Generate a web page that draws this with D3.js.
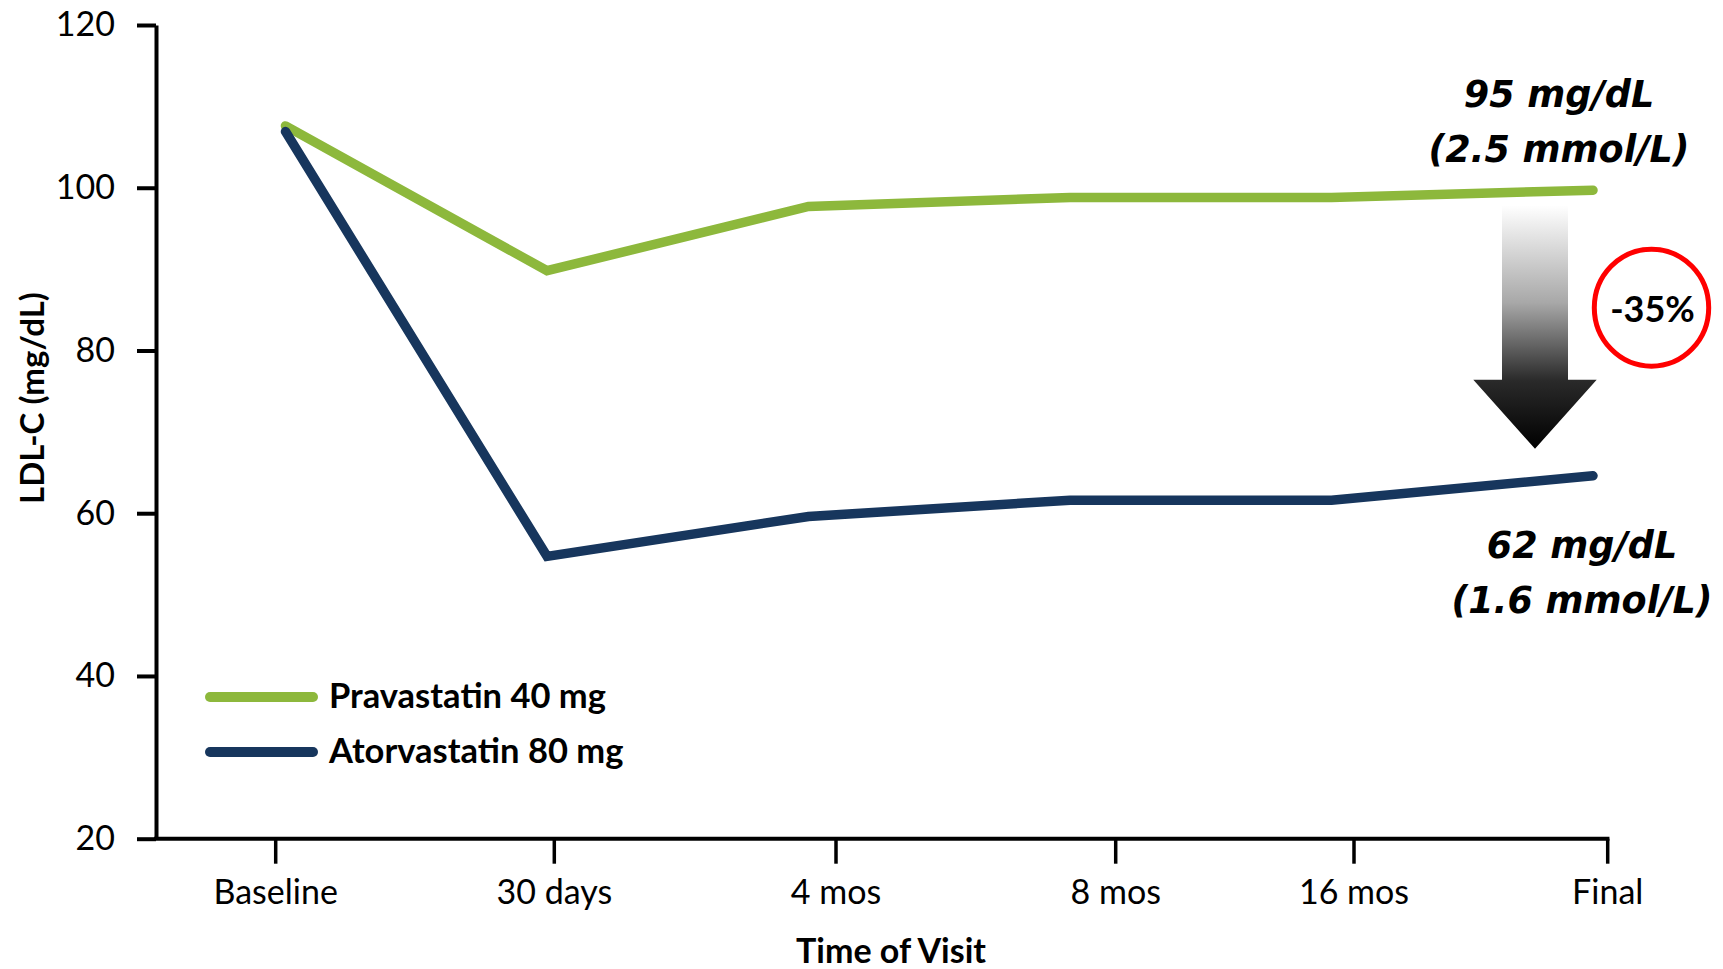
<!DOCTYPE html>
<html><head><meta charset="utf-8">
<script src="https://cdn.jsdelivr.net/npm/d3@7"></script>
<style>html,body{margin:0;padding:0;background:#fff;} svg{display:block}</style>
</head><body><svg id="chart" width="1723" height="969"></svg>
<script>
// ---- data ----
const visits = ["Baseline", "30 days", "4 mos", "8 mos", "16 mos", "Final"];
const pravastatin = [107.6, 89.8, 97.7, 98.8, 98.8, 99.7];
const atorvastatin = [106.9, 54.7, 59.6, 61.6, 61.6, 64.6];
const yTicks = [20, 40, 60, 80, 100, 120];
const seriesNames = ["Pravastatin 40 mg", "Atorvastatin 80 mg"];
const topNote = ["95 mg/dL", "(2.5 mmol/L)"];
const bottomNote = ["62 mg/dL", "(1.6 mmol/L)"];
const changeLabel = "-35%";
const yTitle = "LDL-C (mg/dL)";
const xTitle = "Time of Visit";

// ---- layout / style ----
const W = 1723, H = 969;
const axisX = 156, axisY = 838.7, topY = 25;
const colors = ["#8DB83C", "#17365D"];
const tickNudge = [-9.8, 7.3, 27.5, 45.7, 22.5, 14.7];
const fontMain = "Lato, 'Open Sans', sans-serif";
const fontNote = "'DejaVu Sans', Verdana, sans-serif";

const svg = d3.select("#chart");
const x = d3.scalePoint().domain(visits).range([285.5, 1593]);
const y = d3.scaleLinear().domain([20, 120]).range([axisY, topY]);

// y axis
const gy = svg.append("g").attr("transform", `translate(${axisX},0)`)
  .call(d3.axisLeft(y).tickValues(yTicks).tickSize(19).tickSizeOuter(0).tickPadding(22));
gy.select(".domain").attr("stroke", "#000").attr("stroke-width", 4);
gy.selectAll(".tick line").attr("stroke", "#000").attr("stroke-width", 4);
gy.selectAll(".tick text").attr("font-family", fontMain).attr("font-size", 34).attr("fill", "#000");

// x axis
const gx = svg.append("g").attr("transform", `translate(0,${axisY})`)
  .call(d3.axisBottom(x).tickSize(25).tickSizeOuter(0));
gx.select(".domain").remove();
gx.selectAll(".tick").attr("transform", (d, i) => `translate(${x(d) + tickNudge[i]},0)`);
gx.selectAll(".tick line").attr("stroke", "#000").attr("stroke-width", 3.5);
gx.selectAll(".tick text").attr("font-family", fontMain).attr("font-size", 34).attr("fill", "#000")
  .attr("y", 65.3).attr("dy", 0);
const lastTickX = x(visits[visits.length - 1]) + tickNudge[visits.length - 1];
svg.append("line").attr("x1", axisX - 2).attr("x2", lastTickX + 1.75)
  .attr("y1", axisY).attr("y2", axisY).attr("stroke", "#000").attr("stroke-width", 4);

// titles
svg.append("text").attr("transform", `translate(31,398) rotate(-90)`)
  .attr("text-anchor", "middle").attr("dominant-baseline", "central")
  .attr("font-family", fontMain).attr("font-weight", 700).attr("font-size", 33).text(yTitle);
svg.append("text").attr("x", 891).attr("y", 963).attr("text-anchor", "middle")
  .attr("font-family", fontMain).attr("font-weight", 700).attr("font-size", 34).text(xTitle);

// lines
const line = d3.line().x((d, i) => x(visits[i])).y(d => y(d));
[pravastatin, atorvastatin].forEach((s, k) => {
  svg.append("path").datum(s).attr("d", line).attr("fill", "none")
    .attr("stroke", colors[k]).attr("stroke-width", 9.5)
    .attr("stroke-linecap", "round").attr("stroke-linejoin", "miter");
});

// legend
const legY = [697, 752];
seriesNames.forEach((n, k) => {
  svg.append("line").attr("x1", 210).attr("x2", 313).attr("y1", legY[k]).attr("y2", legY[k])
    .attr("stroke", colors[k]).attr("stroke-width", 10).attr("stroke-linecap", "round");
  svg.append("text").attr("x", 329).attr("y", legY[k] + 11).attr("font-family", fontMain)
    .attr("font-weight", 700).attr("font-size", 34.5).attr("fill", "#000").text(n);
});

// annotations
const xEnd = x(visits[visits.length - 1]);
[[topNote, 1559, [107, 162]], [bottomNote, 1582, [558, 613]]].forEach(([lines, cx, ys]) => {
  lines.forEach((t, i) => {
    svg.append("text").attr("x", cx).attr("y", ys[i]).attr("text-anchor", "middle")
      .attr("font-family", fontNote).attr("font-weight", 700).attr("font-style", "italic")
      .attr("font-size", 36.5).attr("fill", "#000").text(t);
  });
});

// gradient arrow
const defs = svg.append("defs");
const aTop = y(pravastatin[pravastatin.length - 1]) + 15;
const aTip = y(atorvastatin[atorvastatin.length - 1]) - 27;
const aCx = xEnd - 58, shaftHalf = 33, headHalf = 61.7, headTop = aTip - 69;
const grad = defs.append("linearGradient").attr("id", "arrowGrad")
  .attr("gradientUnits", "userSpaceOnUse").attr("x1", 0).attr("x2", 0).attr("y1", aTop).attr("y2", aTip);
[[0, "#ffffff"], [0.4, "#a8a8a8"], [0.72, "#2a2a2a"], [1, "#000000"]].forEach(([o, c]) =>
  grad.append("stop").attr("offset", o).attr("stop-color", c));
svg.append("path").attr("fill", "url(#arrowGrad)").attr("d",
  `M${aCx - shaftHalf},${aTop} L${aCx + shaftHalf},${aTop} L${aCx + shaftHalf},${headTop} L${aCx + headHalf},${headTop} L${aCx},${aTip} L${aCx - headHalf},${headTop} L${aCx - shaftHalf},${headTop} Z`);

// red circle with change label
svg.append("ellipse").attr("cx", 1651.5).attr("cy", 307.7).attr("rx", 57.2).attr("ry", 58.5)
  .attr("fill", "none").attr("stroke", "#FF0000").attr("stroke-width", 5);
svg.append("text").attr("x", 1652.5).attr("y", 321.7).attr("text-anchor", "middle")
  .attr("font-family", fontMain).attr("font-weight", 700).attr("font-size", 36).attr("fill", "#000").text(changeLabel);
</script></body></html>
